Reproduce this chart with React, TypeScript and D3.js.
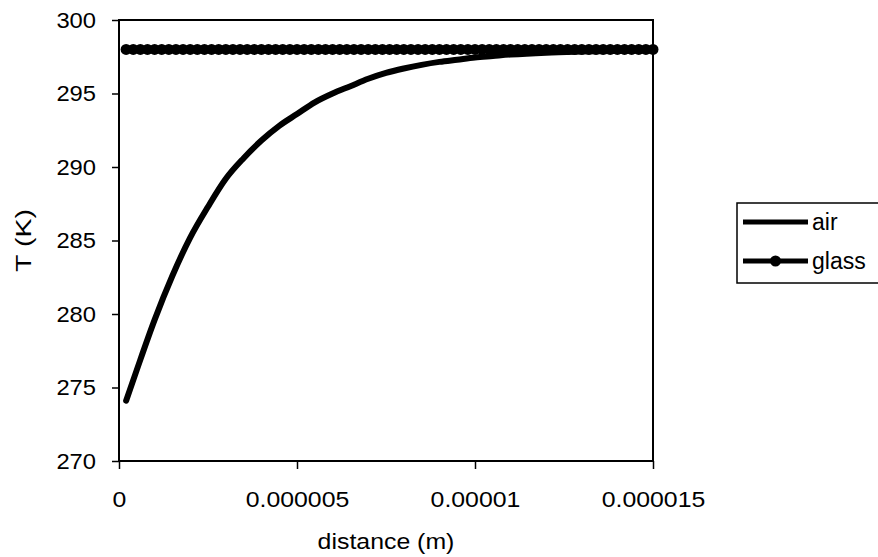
import { useEffect, useRef } from 'react';
import * as d3 from 'd3';

// air temperature profile
const airDistance = [
  2e-7, 5e-7, 1e-6, 1.5e-6, 2e-6, 2.5e-6, 3e-6, 3.5e-6, 4e-6, 4.5e-6, 5e-6, 5.5e-6, 6e-6,
  6.5e-6, 7e-6, 7.5e-6, 8e-6, 8.5e-6, 9e-6, 9.5e-6, 1e-5, 1.05e-5, 1.1e-5, 1.2e-5, 1.3e-5,
  1.4e-5, 1.5e-5,
];
const airTemp = [
  274.1, 276.2, 279.6, 282.6, 285.2, 287.3, 289.2, 290.6, 291.8, 292.8, 293.6, 294.4, 295.0,
  295.5, 296.0, 296.4, 296.7, 296.95, 297.15, 297.3, 297.45, 297.55, 297.65, 297.78, 297.85,
  297.9, 297.93,
];

// glass samples (distance in units of 1e-7 m)
const glassDistance = [
  2, 4, 6, 8, 10, 12, 14, 16, 18, 20, 22, 24, 26, 28, 30, 32, 34, 36, 38, 40, 42, 44, 46, 48, 50,
  52, 54, 56, 58, 60, 62, 64, 66, 68, 70, 72, 74, 76, 78, 80, 82, 84, 86, 88, 90, 92, 94, 96, 98,
  100, 102, 104, 106, 108, 110, 112, 114, 116, 118, 120, 122, 124, 126, 128, 130, 132, 134, 136,
  138, 140, 142, 144, 146, 148, 150,
];
const glassTemp = [
  298, 298, 298, 298, 298, 298, 298, 298, 298, 298, 298, 298, 298, 298, 298, 298, 298, 298, 298,
  298, 298, 298, 298, 298, 298, 298, 298, 298, 298, 298, 298, 298, 298, 298, 298, 298, 298, 298,
  298, 298, 298, 298, 298, 298, 298, 298, 298, 298, 298, 298, 298, 298, 298, 298, 298, 298, 298,
  298, 298, 298, 298, 298, 298, 298, 298, 298, 298, 298, 298, 298, 298, 298, 298, 298, 298,
];

const xTicks = [0, 0.000005, 0.00001, 0.000015];
const xTickLabels = ['0', '0.000005', '0.00001', '0.000015'];
const yTicks = [270, 275, 280, 285, 290, 295, 300];
const seriesNames = ['air', 'glass'];

const App = () => {
  const ref = useRef<SVGSVGElement>(null);

  const width = 878, height = 557;
  const margin = { top: 20, right: 225, bottom: 96, left: 119 };
  const innerW = width - margin.left - margin.right;
  const innerH = height - margin.top - margin.bottom;
  const font = '"Liberation Sans", Arial, sans-serif';
  const fs = 22;
  // the scanned lettering is a bit wider than Arial
  const sx = 1.13;

  useEffect(() => {
    const svg = d3.select(ref.current);
    svg.selectAll('*').remove();

    const x = d3.scaleLinear().domain([0, 0.000015]).range([0, innerW]);
    const y = d3.scaleLinear().domain([270, 300]).range([innerH, 0]);

    const g = svg.append('g').attr('transform', `translate(${margin.left},${margin.top})`);

    // y axis
    const yAxis = g.append('g').call(
      d3.axisLeft(y).tickValues(yTicks).tickSize(7).tickPadding(16).tickFormat(d3.format('d'))
    );
    yAxis.select('.domain').remove();
    yAxis.selectAll('line').attr('stroke', '#000').attr('stroke-width', 1.5);
    yAxis.selectAll('text').attr('font-family', font).attr('font-size', fs).attr('fill', '#000')
      .attr('x', -23 / 1.08).attr('transform', 'scale(1.08,1)');

    // x axis
    const xAxis = g.append('g').attr('transform', `translate(0,${innerH})`).call(
      d3.axisBottom(x).tickValues(xTicks).tickSize(8).tickPadding(22)
        .tickFormat((_, i) => xTickLabels[i])
    );
    xAxis.select('.domain').remove();
    xAxis.selectAll('line').attr('stroke', '#000').attr('stroke-width', 1.5);
    xAxis.selectAll('text').attr('font-family', font).attr('font-size', fs).attr('fill', '#000')
      .attr('transform', `scale(${sx},1)`);

    // plot frame
    g.append('rect')
      .attr('width', innerW).attr('height', innerH)
      .attr('fill', 'none').attr('stroke', '#000').attr('stroke-width', 2);

    // glass series
    const glassData = glassDistance.map((d, i) => ({ d: d * 1e-7, t: glassTemp[i] }));
    const line = d3.line<{ d: number; t: number }>().x((p) => x(p.d)).y((p) => y(p.t));
    g.append('path').attr('d', line(glassData)).attr('fill', 'none')
      .attr('stroke', '#000').attr('stroke-width', 6);
    g.selectAll('circle.glass').data(glassData).enter().append('circle')
      .attr('class', 'glass')
      .attr('cx', (p) => x(p.d)).attr('cy', (p) => y(p.t)).attr('r', 5.5).attr('fill', '#000');

    // air series
    const airData = airDistance.map((d, i) => ({ d, t: airTemp[i] }));
    g.append('path')
      .attr('d', line.curve(d3.curveMonotoneX)(airData))
      .attr('fill', 'none').attr('stroke', '#000').attr('stroke-width', 6)
      .attr('stroke-linecap', 'round');

    // axis titles
    svg.append('text')
      .attr('transform', `translate(${margin.left + innerW / 2},549) scale(${sx},1)`)
      .attr('text-anchor', 'middle').attr('font-family', font).attr('font-size', fs)
      .text('distance (m)');
    svg.append('text')
      .attr('transform', `translate(31,${margin.top + innerH / 2}) rotate(-90) scale(1.3,1)`)
      .attr('text-anchor', 'middle').attr('font-family', font).attr('font-size', fs)
      .text('T (K)');

    // legend
    const lg = svg.append('g');
    lg.append('rect').attr('x', 737).attr('y', 203).attr('width', 160).attr('height', 80)
      .attr('fill', '#fff').attr('stroke', '#000').attr('stroke-width', 1.5);
    seriesNames.forEach((name, i) => {
      const ly = 222 + i * 39;
      lg.append('line').attr('x1', 743).attr('x2', 808).attr('y1', ly).attr('y2', ly)
        .attr('stroke', '#000').attr('stroke-width', 5);
      if (name === 'glass') {
        lg.append('circle').attr('cx', 775.5).attr('cy', ly).attr('r', 5.5).attr('fill', '#000');
      }
      lg.append('text').attr('x', 812).attr('y', ly + 8)
        .attr('font-family', font).attr('font-size', 23).text(name);
    });
  }, []);

  return (
    <svg
      ref={ref}
      width={width}
      height={height}
      style={{ position: 'absolute', left: 0, top: 0, background: '#fff' }}
    />
  );
};

export default App;
